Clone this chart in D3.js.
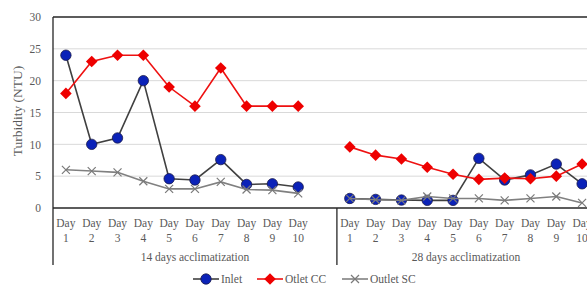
<!DOCTYPE html>
<html>
<head>
<meta charset="utf-8">
<script src="https://cdn.jsdelivr.net/npm/d3@7"></script>
<style>
  body { margin: 0; background: #fff; overflow: hidden; }
  svg text { font-family: "Liberation Serif", "Times New Roman", serif; fill: #595959; }
</style>
</head>
<body>
<div id="chart"></div>
<script>
// chart values
var days = ["1", "2", "3", "4", "5", "6", "7", "8", "9", "10"];
var groups = ["14 days acclimatization", "28 days acclimatization"];
var yTicks = [0, 5, 10, 15, 20, 25, 30];

var inlet14 = [24, 10, 11, 20, 4.6, 4.4, 7.6, 3.7, 3.8, 3.3];
var inlet28 = [1.5, 1.35, 1.25, 1.2, 1.2, 7.8, 4.4, 5.2, 6.9, 3.8];
var otletCC14 = [18, 23, 24, 24, 19, 16, 22, 16, 16, 16];
var otletCC28 = [9.6, 8.3, 7.7, 6.4, 5.3, 4.5, 4.7, 4.6, 5.0, 6.9];
var outletSC14 = [6, 5.8, 5.6, 4.2, 3.0, 3.0, 4.1, 2.9, 2.8, 2.3];
var outletSC28 = [1.5, 1.3, 1.2, 1.8, 1.5, 1.5, 1.2, 1.5, 1.8, 0.8];

function drawChart() {
    var width = 587,
        height = 285,
        left = 53,
        top = 17,
        bottom = 208,
        right = 595;

    var svg = d3.select("#chart")
                .append("svg")
                .attr("width", width)
                .attr("height", height);

    // one blank slot after the first group, like the original sheet
    var keys = [];
    days.forEach(function(d) { keys.push("a" + d); });
    keys.push("gap");
    days.forEach(function(d) { keys.push("b" + d); });

    var x = d3.scaleBand().domain(keys).range([left, right]).padding(0);
    var y = d3.scaleLinear().domain([0, 30]).range([bottom, top]);

    // grid lines
    svg.append("g")
       .selectAll("line")
       .data(yTicks.filter(function(t) { return t > 0 && t < 30; }))
       .enter()
       .append("line")
       .attr("x1", left).attr("x2", width)
       .attr("y1", function(d) { return y(d); })
       .attr("y2", function(d) { return y(d); })
       .attr("stroke", "#d9d9d9")
       .attr("stroke-width", 1);

    // top border
    svg.append("line")
       .attr("x1", left).attr("x2", width)
       .attr("y1", y(30)).attr("y2", y(30))
       .attr("stroke", "#262626").attr("stroke-width", 1.3);

    // y axis
    var yAxis = svg.append("g")
       .attr("transform", "translate(" + left + ",0)")
       .call(d3.axisLeft(y).tickValues(yTicks).tickSize(0).tickPadding(12));
    yAxis.select(".domain").remove();
    yAxis.selectAll("text").attr("font-size", 11.5).style("font-family", null);

    svg.append("text")
       .attr("transform", "translate(22,111) rotate(-90)")
       .attr("text-anchor", "middle")
       .attr("font-size", 13.5)
       .text("Turbidity (NTU)");

    // x axis line
    svg.append("line")
       .attr("x1", left).attr("x2", width)
       .attr("y1", bottom).attr("y2", bottom)
       .attr("stroke", "#262626").attr("stroke-width", 1.3);

    // left border down to the group labels, and group separator
    svg.append("line")
       .attr("x1", left).attr("x2", left)
       .attr("y1", top).attr("y2", 265)
       .attr("stroke", "#262626").attr("stroke-width", 1.3);
    svg.append("line")
       .attr("x1", x("b1")).attr("x2", x("b1"))
       .attr("y1", bottom).attr("y2", 265)
       .attr("stroke", "#262626").attr("stroke-width", 1.3);

    // x tick labels
    var tickKeys = keys.filter(function(k) { return k !== "gap"; });
    var ticks = svg.append("g")
       .selectAll("text")
       .data(tickKeys)
       .enter()
       .append("text")
       .attr("text-anchor", "middle")
       .attr("font-size", 11.5)
       .attr("x", function(d) { return x(d) + x.bandwidth() / 2; });
    ticks.append("tspan")
       .attr("x", function(d) { return x(d) + x.bandwidth() / 2; })
       .attr("y", 227)
       .text("Day");
    ticks.append("tspan")
       .attr("x", function(d) { return x(d) + x.bandwidth() / 2; })
       .attr("y", 242)
       .text(function(d) { return d.slice(1); });

    // group labels
    var groupSpans = [[x("a1"), x("b1")], [x("b1"), x("b10") + x.bandwidth()]];
    svg.append("g")
       .selectAll("text")
       .data(groups)
       .enter()
       .append("text")
       .attr("text-anchor", "middle")
       .attr("font-size", 11.5)
       .attr("x", function(d, i) { return (groupSpans[i][0] + groupSpans[i][1]) / 2; })
       .attr("y", 261)
       .text(function(d) { return d; });

    var series = [
        { name: "Inlet", parts: [inlet14, inlet28], line: "#404040", fill: "#0b22b8", stroke: "#1a1a4a", marker: "circle" },
        { name: "Otlet CC", parts: [otletCC14, otletCC28], line: "#ee1111", fill: "#ee0000", stroke: "#ee0000", marker: "diamond" },
        { name: "Outlet SC", parts: [outletSC14, outletSC28], line: "#808080", fill: "none", stroke: "#7a7a7a", marker: "cross" }
    ];

    var line = d3.line()
       .x(function(d) { return x(d.key) + x.bandwidth() / 2; })
       .y(function(d) { return y(d.value); });

    function drawMarker(g, s, cx, cy) {
        if (s.marker === "circle") {
            g.append("circle").attr("cx", cx).attr("cy", cy).attr("r", 5.2)
             .attr("fill", s.fill).attr("stroke", s.stroke).attr("stroke-width", 0.8);
        } else if (s.marker === "diamond") {
            g.append("path")
             .attr("d", "M" + cx + "," + (cy - 5.8) + "L" + (cx + 5.8) + "," + cy +
                        "L" + cx + "," + (cy + 5.8) + "L" + (cx - 5.8) + "," + cy + "Z")
             .attr("fill", s.fill);
        } else {
            var r = 4;
            g.append("path")
             .attr("d", "M" + (cx - r) + "," + (cy - r) + "L" + (cx + r) + "," + (cy + r) +
                        "M" + (cx - r) + "," + (cy + r) + "L" + (cx + r) + "," + (cy - r))
             .attr("stroke", s.stroke).attr("stroke-width", 1.2).attr("fill", "none");
        }
    }

    var prefixes = ["a", "b"];
    series.forEach(function(s) {
        var g = svg.append("g").attr("class", "series");
        s.parts.forEach(function(vals, gi) {
            var pts = vals.map(function(v, i) { return { key: prefixes[gi] + days[i], value: v }; });
            g.append("path")
             .datum(pts)
             .attr("d", line)
             .attr("fill", "none")
             .attr("stroke", s.line)
             .attr("stroke-width", 1.6);
            pts.forEach(function(p) {
                drawMarker(g, s, x(p.key) + x.bandwidth() / 2, y(p.value));
            });
        });
    });

    // legend
    var legendX = [193, 257, 342];
    var legendY = 279;
    series.forEach(function(s, i) {
        var g = svg.append("g");
        g.append("line")
         .attr("x1", legendX[i]).attr("x2", legendX[i] + 26)
         .attr("y1", legendY).attr("y2", legendY)
         .attr("stroke", s.line).attr("stroke-width", 1.6);
        drawMarker(g, Object.assign({}, s), legendX[i] + 13, legendY);
        g.append("text")
         .attr("x", legendX[i] + 28)
         .attr("y", legendY + 4)
         .attr("font-size", 11.5)
         .text(s.name);
    });
}

drawChart();
</script>
</body>
</html>
